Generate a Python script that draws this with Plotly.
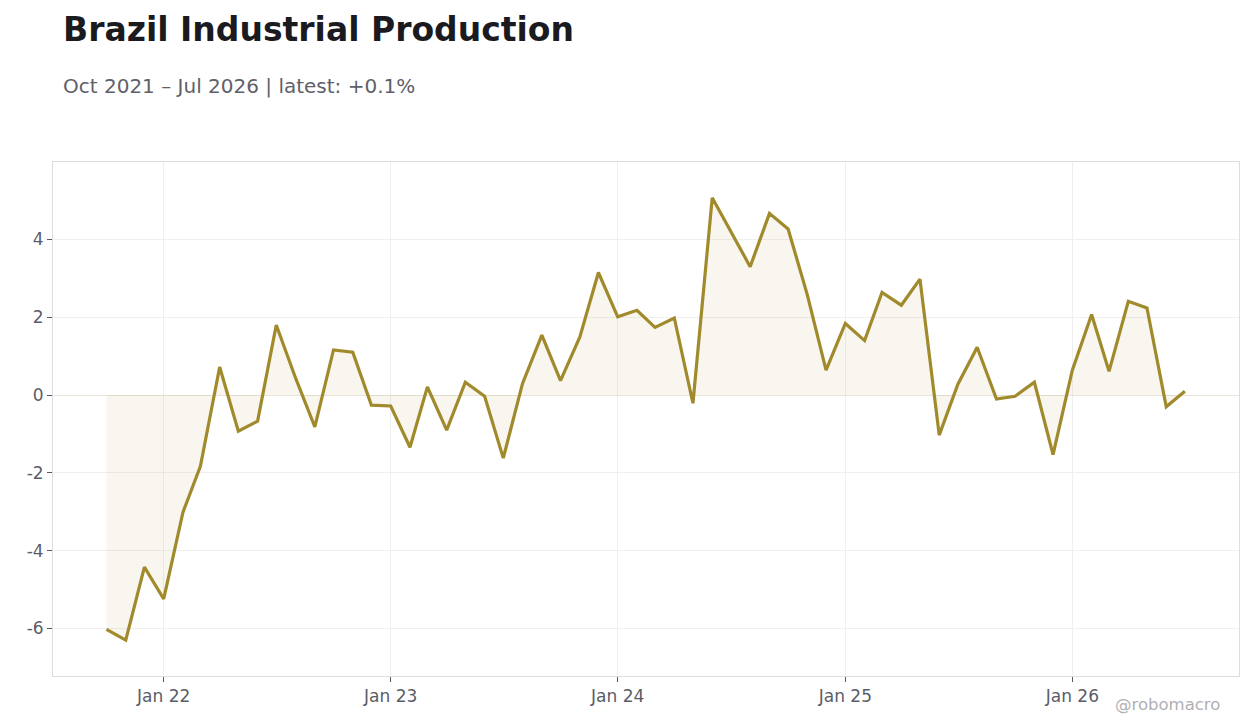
import pandas as pd
import plotly.graph_objects as go

# monthly % change, Oct 2021 .. Jul 2026
months = pd.date_range("2021-10-01", "2026-07-01", freq="MS")
values = [
    -6.02, -6.30, -4.42, -5.24, -3.01, -1.83, 0.72, -0.93, -0.67, 1.80,
    0.44, -0.82, 1.16, 1.10, -0.26, -0.28, -1.34, 0.21, -0.90, 0.33,
    -0.03, -1.62, 0.30, 1.54, 0.37, 1.49, 3.15, 2.01, 2.18, 1.74,
    1.98, -0.21, 5.07, 4.20, 3.30, 4.67, 4.27, 2.57, 0.64, 1.84,
    1.40, 2.64, 2.31, 2.98, -1.03, 0.28, 1.23, -0.10, -0.03, 0.33,
    -1.53, 0.64, 2.07, 0.61, 2.41, 2.24, -0.30, 0.10,
]
title = "Brazil Industrial Production"
subtitle = "Oct 2021 – Jul 2026 | latest: +0.1%"
tick_dates = ["2022-01-01", "2023-01-01", "2024-01-01", "2025-01-01", "2026-01-01"]
tick_labels = ["Jan 22", "Jan 23", "Jan 24", "Jan 25", "Jan 26"]
y_ticks = [-6, -4, -2, 0, 2, 4]
y_labels = ["-6", "-4", "-2", "0", "2", "4"]

line_color = "#a08a2c"
font = "DejaVu Sans"

fig = go.Figure()
fig.add_trace(go.Scatter(
    x=months, y=values,
    mode="lines",
    line=dict(color=line_color, width=3.2),
    fill="tozeroy",
    fillcolor="rgba(160,138,44,0.08)",
    hoverinfo="x+y",
))

# page body has an 8px margin, so margins are trimmed to land the plot where it should
fig.update_layout(
    width=1260, height=728,
    margin=dict(l=45, r=29, t=154, b=60),
    paper_bgcolor="white",
    plot_bgcolor="white",
    showlegend=False,
    font=dict(family=font, size=17, color="#5a5d68"),
    annotations=[
        dict(text="<b>" + title + "</b>", xref="paper", yref="paper",
             x=0, y=1.257, xshift=8, xanchor="left", yanchor="middle",
             showarrow=False, font=dict(size=33, color="#1a1a1f")),
        dict(text=subtitle, xref="paper", yref="paper",
             x=0, y=1.148, xshift=8, xanchor="left", yanchor="middle",
             showarrow=False, font=dict(size=20, color="#5f6068")),
        dict(text="@robomacro", xref="paper", yref="paper",
             x=0.9857, y=-0.056, xanchor="right", yanchor="middle",
             showarrow=False, font=dict(size=16.5, color="#b0b0b4")),
    ],
)
fig.update_xaxes(
    range=["2021-07-07", "2026-09-26"],
    tickvals=tick_dates, ticktext=tick_labels,
    showgrid=True, gridcolor="#efefef",
    showline=True, linecolor="#dddde0", mirror=True,
    ticks="outside", ticklen=5, tickcolor="#555a66",
    zeroline=False,
)
fig.update_yaxes(
    range=[-7.22, 5.99],
    tickvals=y_ticks, ticktext=y_labels,
    showgrid=True, gridcolor="#efefef",
    showline=True, linecolor="#dddde0", mirror=True,
    ticks="outside", ticklen=5, tickcolor="#555a66",
    zeroline=True, zerolinecolor="#e8e4d8", zerolinewidth=1,
)

fig.write_html("out.html")
